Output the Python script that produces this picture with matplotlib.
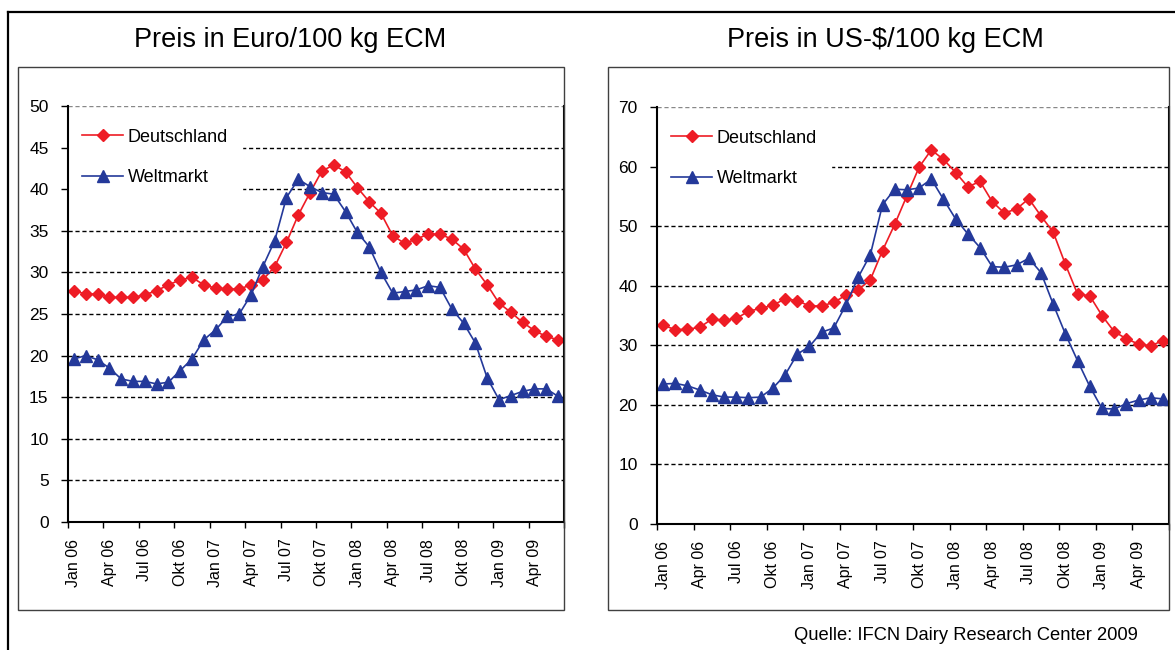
import numpy as np
import matplotlib.pyplot as plt
from matplotlib.patches import Rectangle
from matplotlib.lines import Line2D

plt.rcParams['font.family'] = ['Liberation Sans', 'DejaVu Sans']

# monthly values Jan 06 .. Jun 09
de_eur = [27.8, 27.4, 27.4, 27.0, 27.0, 27.0, 27.3, 27.8, 28.5, 29.1, 29.4, 28.5, 28.1, 28.0,
          28.0, 28.5, 29.1, 30.7, 33.6, 36.9, 39.6, 42.2, 42.9, 42.1, 40.2, 38.5, 37.1, 34.4,
          33.5, 34.0, 34.6, 34.6, 34.0, 32.8, 30.4, 28.5, 26.3, 25.2, 24.0, 23.0, 22.3, 21.9]
wm_eur = [19.6, 20.0, 19.5, 18.5, 17.2, 16.9, 16.9, 16.6, 16.8, 18.2, 19.6, 21.9, 23.1, 24.7,
          25.0, 27.3, 30.7, 33.8, 39.0, 41.2, 40.3, 39.6, 39.4, 37.3, 34.8, 33.1, 30.0, 27.5,
          27.7, 27.9, 28.4, 28.2, 25.6, 23.9, 21.5, 17.3, 14.7, 15.2, 15.7, 16.0, 16.0, 15.1]
de_usd = [33.4, 32.6, 32.7, 33.0, 34.4, 34.2, 34.5, 35.7, 36.2, 36.7, 37.8, 37.5, 36.6, 36.6,
          37.2, 38.4, 39.3, 41.0, 45.9, 50.3, 55.1, 59.9, 62.8, 61.2, 59.0, 56.6, 57.5, 54.1,
          52.2, 52.9, 54.6, 51.7, 49.0, 43.6, 38.6, 38.3, 35.0, 32.3, 31.1, 30.2, 29.9, 30.8]
wm_usd = [23.5, 23.6, 23.2, 22.5, 21.7, 21.3, 21.3, 21.2, 21.3, 22.8, 25.0, 28.5, 29.8, 32.2,
          32.9, 36.8, 41.4, 45.2, 53.6, 56.2, 56.1, 56.4, 57.9, 54.5, 51.2, 48.7, 46.4, 43.2,
          43.1, 43.5, 44.6, 42.2, 36.9, 31.9, 27.4, 23.1, 19.4, 19.3, 20.2, 20.8, 21.2, 21.0]
tick_labels = ['Jan 06', 'Apr 06', 'Jul 06', 'Okt 06', 'Jan 07', 'Apr 07', 'Jul 07',
               'Okt 07', 'Jan 08', 'Apr 08', 'Jul 08', 'Okt 08', 'Jan 09', 'Apr 09']

red = '#EE1C25'
blue = '#24399A'
W, H = 1175, 650

fig = plt.figure(figsize=(W / 100, H / 100), dpi=100)

# outer frame (left + top)
fig.add_artist(Line2D([8 / W, 8 / W], [0, 1 - 12 / H], color='black', lw=1.6))
fig.add_artist(Line2D([8 / W, 1], [1 - 12 / H, 1 - 12 / H], color='black', lw=1.6))


def panel(x0, x1, ytop, ybot, box, title, title_x, de, wm, ymax, ystep):
    ax = fig.add_axes([x0 / W, 1 - ybot / H, (x1 - x0) / W, (ybot - ytop) / H])
    fig.add_artist(Rectangle((box[0] / W, 1 - box[3] / H), (box[2] - box[0]) / W,
                             (box[3] - box[1]) / H, transform=fig.transFigure,
                             fill=False, ec='#404040', lw=1))
    x = np.arange(len(de))
    ax.plot(x, de, color=red, marker='D', ms=6, lw=1.2, label='Deutschland', zorder=3)
    ax.plot(x, wm, color=blue, marker='^', ms=8, lw=1.2, label='Weltmarkt', zorder=3)
    ax.set_xlim(-0.5, len(de) - 0.5)
    ax.set_ylim(0, ymax)
    ax.set_yticks(np.arange(0, ymax + 1, ystep))
    ax.yaxis.grid(True, color='black', ls=(0, (3, 2)), lw=1)
    ax.get_ygridlines()[-1].set_color('#888888')
    ax.set_axisbelow(True)

    ax.set_xticks(np.arange(-0.5, len(de), 3))
    ax.set_xticklabels([])
    ax.set_xticks(np.arange(0, len(de), 3), tick_labels, minor=True)
    ax.tick_params(axis='x', which='major', length=4, width=1, direction='out')
    ax.tick_params(axis='x', which='minor', length=0, rotation=90, labelsize=11.5, pad=12)
    ax.tick_params(axis='y', length=5, width=1, direction='out', labelsize=12.5, pad=9)

    ax.spines['top'].set_visible(False)
    for s in ['left', 'bottom', 'right']:
        ax.spines[s].set_linewidth(1.5)
        ax.spines[s].set_zorder(5)

    leg = ax.legend(loc='upper left', bbox_to_anchor=(0.0, 0.98), frameon=True,
                    fancybox=False, edgecolor='white', facecolor='white', framealpha=1,
                    fontsize=13, labelspacing=1.3, handlelength=2.25,
                    handletextpad=0.25, borderpad=0.8, borderaxespad=0)
    leg.set_zorder(4)

    fig.text(title_x / W, 1 - 40 / H, title, ha='center', va='center', fontsize=19.5)
    return ax


panel(68, 564, 106, 522, (18, 67, 564, 610), 'Preis in Euro/100 kg ECM', 290,
      de_eur, wm_eur, 50, 5)
panel(657, 1169, 107, 524, (608, 67, 1169, 610), 'Preis in US-$/100 kg ECM', 885,
      de_usd, wm_usd, 70, 10)

fig.text(1138 / W, 1 - 635 / H, 'Quelle: IFCN Dairy Research Center 2009',
         ha='right', va='center', fontsize=13.2)

fig.savefig('out.png', dpi=100)
